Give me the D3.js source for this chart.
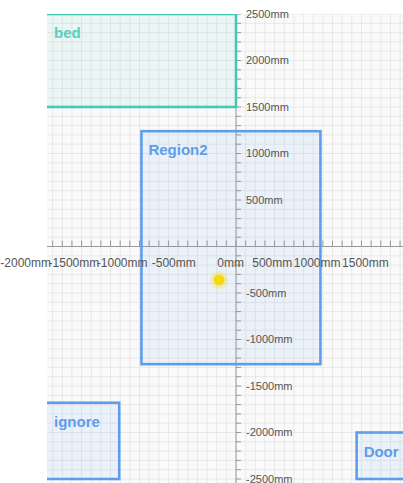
<!DOCTYPE html>
<html>
<head>
<meta charset="utf-8">
<script src="https://cdn.jsdelivr.net/npm/d3@7"></script>
<style>
  html, body { margin: 0; padding: 0; background: #fff; }
  svg { display: block; font-family: "Liberation Sans", Arial, sans-serif; }
</style>
</head>
<body>
<div id="chart"></div>
<script>
// Zone data (mm)
const zoneNames = ["bed", "Region2", "ignore", "Door"];
const zoneLeft = [-2000, -980, -2000, 1250];
const zoneRight = [0, 875, -1210, 2000];
const zoneTop = [2500, 1240, -1680, -2000];
const zoneBottom = [1500, -1265, -2500, -2500];
const zoneKind = ["bed", "zone", "zone", "zone"];

// Target position (mm)
const targetX = [-175];
const targetY = [-360];

// Tick labels
const xLabelValues = [-2000, -1500, -1000, -500, 0, 500, 1000, 1500];
const yLabelValues = [2500, 2000, 1500, 1000, 500, -500, -1000, -1500, -2000, -2500];

const width = 403, height = 483;
const plot = { left: 47, top: 14, right: 403, bottom: 483 };

const x = d3.scaleLinear().domain([0, 1000]).range([236, 332.5]);
const y = d3.scaleLinear().domain([0, 1000]).range([246.5, 153.5]);

const colors = {
  bed: { stroke: "#44c9b4", fill: "rgba(68,201,180,0.08)", text: "#55d0bd" },
  zone: { stroke: "#5e9ded", fill: "rgba(94,157,237,0.09)", text: "#5e9ded" }
};

const svg = d3.select("#chart").append("svg")
  .attr("width", width)
  .attr("height", height);

svg.append("defs").append("clipPath").attr("id", "plotClip")
  .append("rect")
  .attr("x", plot.left).attr("y", plot.top)
  .attr("width", plot.right - plot.left).attr("height", plot.bottom - plot.top);

const g = svg.append("g").attr("clip-path", "url(#plotClip)");

// Background + grid
g.append("rect")
  .attr("x", plot.left).attr("y", plot.top)
  .attr("width", plot.right - plot.left).attr("height", plot.bottom - plot.top)
  .attr("fill", "#fafafa");

const xMin = Math.floor(x.invert(plot.left) / 100) * 100;
const xMax = Math.ceil(x.invert(plot.right) / 100) * 100;
const yMin = Math.floor(y.invert(plot.bottom) / 100) * 100;
const yMax = Math.ceil(y.invert(plot.top) / 100) * 100;
const gridX = d3.range(xMin, xMax + 1, 100);
const gridY = d3.range(yMin, yMax + 1, 100);

g.append("g").selectAll("line").data(gridX).join("line")
  .attr("x1", d => x(d)).attr("x2", d => x(d))
  .attr("y1", plot.top).attr("y2", plot.bottom)
  .attr("stroke", "#e8e8e8").attr("stroke-width", 1);

g.append("g").selectAll("line").data(gridY).join("line")
  .attr("y1", d => y(d)).attr("y2", d => y(d))
  .attr("x1", plot.left).attr("x2", plot.right)
  .attr("stroke", "#e8e8e8").attr("stroke-width", 1);

// Axes
const axisColor = "#999";
g.append("line")
  .attr("x1", plot.left).attr("x2", plot.right)
  .attr("y1", y(0)).attr("y2", y(0))
  .attr("stroke", axisColor);
g.append("g").selectAll("line").data(gridX).join("line")
  .attr("x1", d => x(d)).attr("x2", d => x(d))
  .attr("y1", y(0) - 6).attr("y2", y(0))
  .attr("stroke", axisColor);

g.append("line")
  .attr("x1", x(0)).attr("x2", x(0))
  .attr("y1", plot.top).attr("y2", plot.bottom)
  .attr("stroke", axisColor);
g.append("g").selectAll("line").data(gridY).join("line")
  .attr("x1", x(0)).attr("x2", x(0) + 5)
  .attr("y1", d => y(d)).attr("y2", d => y(d))
  .attr("stroke", axisColor);

// Zones
const zones = zoneNames.map((name, i) => ({
  name, left: zoneLeft[i], right: zoneRight[i],
  top: zoneTop[i], bottom: zoneBottom[i], kind: zoneKind[i]
}));

const zg = g.append("g").selectAll("g").data(zones).join("g");
zg.append("rect")
  .attr("x", d => x(d.left))
  .attr("y", d => y(d.top))
  .attr("width", d => x(d.right) - x(d.left))
  .attr("height", d => y(d.bottom) - y(d.top))
  .attr("fill", d => colors[d.kind].fill)
  .attr("stroke", d => colors[d.kind].stroke)
  .attr("stroke-width", 2.6);

zg.append("text")
  .attr("x", d => Math.max(x(d.left), plot.left) + 7)
  .attr("y", d => y(d.top) + 24)
  .attr("fill", d => colors[d.kind].text)
  .attr("font-size", "15px")
  .attr("font-weight", "bold")
  .text(d => d.name);

// Target dot
const target = targetX.map((v, i) => ({ x: v, y: targetY[i] }));
g.append("g").selectAll("circle").data(target).join("circle")
  .attr("cx", d => x(d.x)).attr("cy", d => y(d.y))
  .attr("r", 9).attr("fill", "rgba(248,222,40,0.28)");
g.append("g").selectAll("circle").data(target).join("circle")
  .attr("cx", d => x(d.x)).attr("cy", d => y(d.y))
  .attr("r", 5.5).attr("fill", "#f5d90c");

// Tick labels (unclipped)
svg.append("g").selectAll("text").data(xLabelValues).join("text")
  .attr("x", d => x(d) + 8)
  .attr("y", y(0) + 20)
  .attr("text-anchor", "end")
  .attr("fill", "#555")
  .attr("font-size", "12px")
  .text(d => `${d}mm`);

svg.append("g").selectAll("text").data(yLabelValues).join("text")
  .attr("x", x(0) + 10)
  .attr("y", d => y(d))
  .attr("dy", "0.35em")
  .attr("fill", "#555")
  .attr("font-size", "11px")
  .text(d => `${d}mm`);
</script>
</body>
</html>
